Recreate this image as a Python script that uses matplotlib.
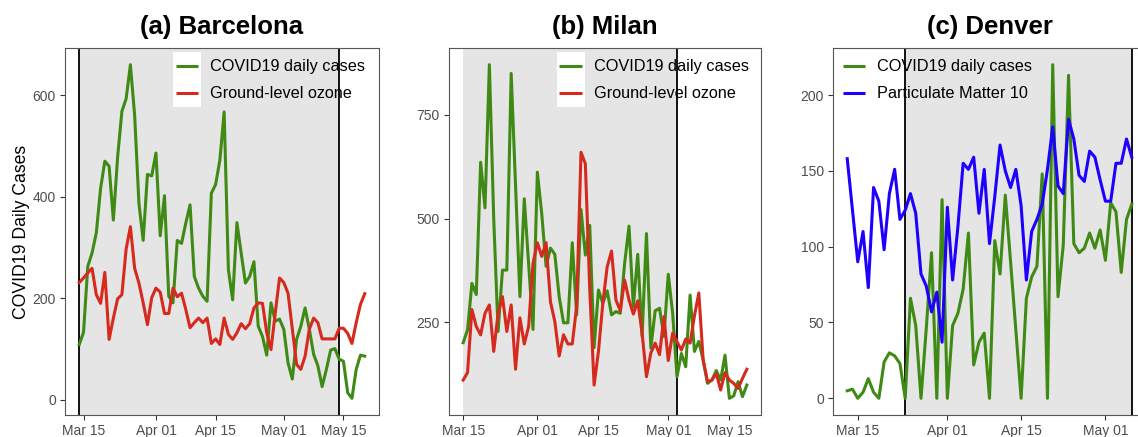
import matplotlib
matplotlib.use("Agg")
import matplotlib.pyplot as plt
import matplotlib.dates as mdates
import pandas as pd
from matplotlib.legend_handler import HandlerBase
from matplotlib.patches import Rectangle
from matplotlib.lines import Line2D

plt.rcParams['font.family'] = ['Liberation Sans', 'DejaVu Sans']

#####################
# data (daily values)
bcn_dates = pd.date_range('2020-03-14', '2020-05-20')
bcn_cases = [109, 133, 263, 289, 329, 416, 470, 460, 354, 478, 568, 593, 660, 560, 387, 314, 444, 441,
             486, 323, 402, 204, 191, 314, 308, 348, 384, 243, 220, 204, 194, 407, 424, 472, 567, 256,
             197, 349, 289, 230, 243, 272, 145, 125, 88, 191, 155, 159, 139, 73, 41, 119, 145, 181,
             139, 90, 67, 26, 60, 98, 101, 80, 76, 14, 3, 60, 88, 86]
bcn_ozone = [231, 240, 250, 259, 207, 190, 251, 119, 161, 199, 207, 297, 341, 259, 230, 191, 148, 201,
             220, 212, 170, 170, 220, 203, 210, 178, 142, 152, 161, 152, 161, 111, 120, 109, 161, 129,
             119, 132, 150, 140, 150, 181, 191, 190, 132, 99, 171, 240, 231, 210, 140, 70, 60, 86,
             139, 161, 152, 120, 120, 120, 120, 141, 141, 131, 111, 152, 188, 209]

mil_dates = pd.date_range('2020-03-15', '2020-05-19')
mil_cases = [201, 232, 344, 317, 636, 526, 871, 500, 228, 376, 376, 850, 580, 312, 548, 390, 233, 612,
             512, 385, 429, 414, 312, 249, 249, 442, 268, 522, 412, 484, 189, 328, 296, 326, 268, 276,
             272, 392, 482, 288, 414, 216, 464, 188, 278, 284, 216, 366, 272, 119, 175, 143, 316, 180,
             204, 159, 103, 111, 134, 111, 171, 67, 73, 107, 71, 99]
mil_ozone = [111, 129, 281, 240, 220, 272, 292, 180, 272, 312, 228, 292, 137, 261, 198, 240, 392, 442,
             409, 442, 300, 252, 169, 220, 198, 198, 288, 660, 632, 330, 99, 180, 296, 384, 422, 304,
             278, 352, 304, 270, 302, 224, 119, 176, 200, 172, 264, 158, 224, 204, 183, 210, 200, 266,
             321, 159, 107, 111, 127, 87, 129, 111, 103, 91, 115, 137]

den_dates = pd.date_range('2020-03-13', '2020-05-06')
den_cases = [5, 6, 0, 4, 13, 4, 0, 24, 30, 28, 23, 0, 66, 48, 0, 46, 96, 0, 131, 0, 48, 56, 72, 109,
             22, 37, 43, 0, 104, 82, 134, 90, 45, 0, 66, 80, 87, 148, 0, 220, 67, 101, 213, 102, 96,
             99, 109, 99, 111, 91, 129, 123, 83, 118, 128]
den_pm10 = [158, 124, 90, 110, 73, 139, 130, 98, 135, 151, 118, 124, 135, 122, 82, 74, 57, 70, 37, 126,
            78, 113, 155, 151, 159, 122, 151, 102, 133, 167, 150, 139, 151, 127, 78, 110, 118, 128, 151,
            179, 140, 135, 184, 171, 147, 143, 163, 159, 144, 130, 130, 155, 155, 171, 159]

# shaded periods and marker lines
bcn_shade = ('2020-03-14', '2020-05-14')
bcn_lines = ['2020-03-14', '2020-05-14']
mil_shade = ('2020-03-15', '2020-05-03')
mil_lines = ['2020-05-03']
den_shade = ('2020-03-24', '2020-05-06')
den_lines = ['2020-03-24', '2020-05-06']

bcn_yticks = [0, 200, 400, 600]
mil_yticks = [250, 500, 750]
den_yticks = [0, 50, 100, 150, 200]
xtick_dates = ['2020-03-15', '2020-04-01', '2020-04-15', '2020-05-01', '2020-05-15']
#####################

GREEN = '#3F8A14'
RED = '#D62A1E'
BLUE = '#1E00FF'


class KeyHandler(HandlerBase):
    # ggplot style key: white square with a short line
    def create_artists(self, legend, orig_handle, xdescent, ydescent, width, height, fontsize, trans):
        bg = Rectangle((-xdescent, -ydescent), width, height, facecolor='white',
                       edgecolor='none', transform=trans)
        y = -ydescent + height / 2
        ln = Line2D([-xdescent + 0.1 * width, -xdescent + 0.9 * width], [y, y],
                    color=orig_handle.get_color(), lw=orig_handle.get_linewidth(),
                    solid_capstyle='butt', transform=trans)
        return [bg, ln]


def panel(ax, title, dates, cases, pol, pol_color, pol_label, shade, lines, yticks, leg_x):
    ax.axvspan(pd.Timestamp(shade[0]), pd.Timestamp(shade[1]), color='#E5E5E5', lw=0, zorder=0)
    for d in lines:
        ax.axvline(pd.Timestamp(d), color='black', lw=1.3, zorder=1)
    h1, = ax.plot(dates, cases, color=GREEN, lw=2.2, zorder=3, label='COVID19 daily cases')
    h2, = ax.plot(dates, pol, color=pol_color, lw=2.2, zorder=3, label=pol_label)

    span = dates[-1] - dates[0]
    x0 = dates[0] - 0.05 * span
    x1 = dates[-1] + 0.05 * span
    lo = min(min(cases), min(pol))
    hi = max(max(cases), max(pol))

    ax.set_yticks(yticks)
    ticks = [pd.Timestamp(d) for d in xtick_dates if x0 <= pd.Timestamp(d) <= x1]
    ax.set_xticks(ticks)
    ax.set_xlim(x0, x1)
    ax.set_ylim(lo - 0.05 * (hi - lo), hi + 0.05 * (hi - lo))
    ax.xaxis.set_major_formatter(mdates.DateFormatter('%b %d'))
    ax.tick_params(length=3.5, width=0.8, color='#333333', labelcolor='#4D4D4D',
                   labelsize=10, pad=3)
    for s in ax.spines.values():
        s.set_color('#555555')
        s.set_linewidth(0.8)
    ax.set_title(title, fontsize=18.5, fontweight='bold', pad=10)
    ax.legend(handles=[h1, h2], loc='upper left', bbox_to_anchor=(leg_x, 0.989),
              frameon=False, borderpad=0, borderaxespad=0, handlelength=1.72,
              handleheight=2.23, labelspacing=0, handletextpad=0.55, fontsize=11.7,
              handler_map={Line2D: KeyHandler()})


fig = plt.figure(figsize=(11.38, 4.37), dpi=100)
H = 437.0
W = 1138.0
bottom = (H - 415) / H
height = 367 / H
ax1 = fig.add_axes([65 / W, bottom, 314 / W, height])
ax2 = fig.add_axes([449 / W, bottom, 312 / W, height])
ax3 = fig.add_axes([833 / W, bottom, 313 / W, height])

panel(ax1, '(a) Barcelona', bcn_dates, bcn_cases, bcn_ozone, RED, 'Ground-level ozone',
      bcn_shade, bcn_lines, bcn_yticks, 0.344)
panel(ax2, '(b) Milan', mil_dates, mil_cases, mil_ozone, RED, 'Ground-level ozone',
      mil_shade, mil_lines, mil_yticks, 0.345)
panel(ax3, '(c) Denver', den_dates, den_cases, den_pm10, BLUE, 'Particulate Matter 10',
      den_shade, den_lines, den_yticks, 0.022)

ax1.set_ylabel('COVID19 Daily Cases', fontsize=12.7)
ax1.yaxis.set_label_coords(-0.111, 0.5)

plt.savefig('out.png', dpi=100)
